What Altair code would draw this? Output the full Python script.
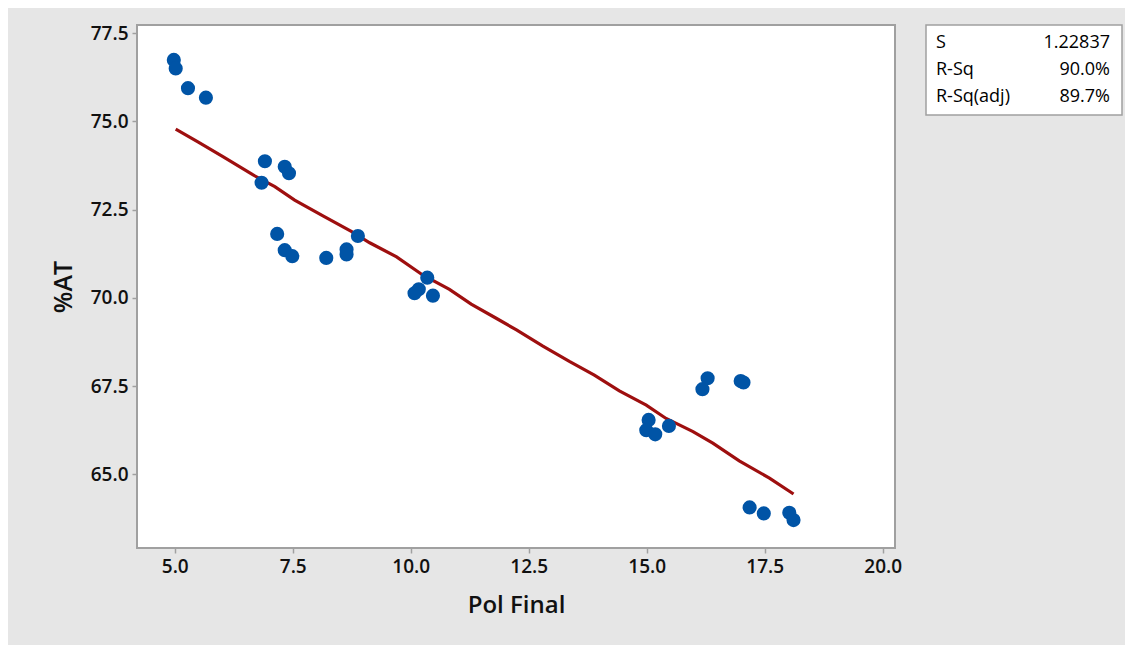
import altair as alt
import pandas as pd

# Observed data (Pol Final vs %AT)
pol_final = [4.98, 5.02, 5.28, 5.66, 6.91, 7.33, 7.42, 6.84, 7.17, 7.33, 7.49,
             8.21, 8.64, 8.64, 8.88, 10.35, 10.17, 10.08, 10.47,
             16.29, 16.18, 16.99, 17.05, 15.04, 14.99, 15.18, 15.47,
             17.18, 17.48, 18.02, 18.11]
pct_at = [76.74, 76.50, 75.94, 75.67, 73.87, 73.71, 73.53, 73.26, 71.81, 71.35, 71.18,
          71.13, 71.37, 71.23, 71.75, 70.57, 70.24, 70.13, 70.06,
          67.72, 67.41, 67.64, 67.60, 66.54, 66.25, 66.13, 66.37,
          64.06, 63.89, 63.91, 63.70]

# Fitted line as drawn
fit_x = [5.02, 5.49, 6.02, 6.66, 7.12, 7.54, 8.14, 8.74, 9.13, 9.70, 10.26, 10.82,
         11.28, 11.81, 12.24, 12.80, 13.37, 13.89, 14.42, 14.99, 15.41, 15.98,
         16.40, 16.96, 17.60, 18.11]
fit_y = [74.78, 74.42, 74.00, 73.48, 73.15, 72.77, 72.32, 71.88, 71.56, 71.16, 70.64, 70.24,
         69.82, 69.42, 69.09, 68.63, 68.19, 67.81, 67.36, 66.96, 66.58, 66.21,
         65.88, 65.38, 64.89, 64.44]

x_ticks = [5.0, 7.5, 10.0, 12.5, 15.0, 17.5, 20.0]
y_ticks = [65.0, 67.5, 70.0, 72.5, 75.0, 77.5]

stat_labels = ["S", "R-Sq", "R-Sq(adj)"]
stat_values = ["1.22837", "90.0%", "89.7%"]

FONT = "Open Sans"

pts = pd.DataFrame({"Pol Final": pol_final, "%AT": pct_at})
fit = pd.DataFrame({"Pol Final": fit_x, "%AT": fit_y, "order": list(range(len(fit_x)))})

xscale = alt.Scale(domain=[4.2, 20.26], nice=False, zero=False)
yscale = alt.Scale(domain=[62.91, 77.73], nice=False, zero=False)

xaxis = alt.Axis(values=x_ticks, format=".1f", title="Pol Final", grid=False,
                 domain=False, tickColor="#A0A0A0", tickSize=5, tickWidth=1.5,
                 labelFont=FONT, labelFontSize=19, labelFontWeight=600, labelColor="#111",
                 labelPadding=4, titleFont=FONT, titleFontSize=24, titleFontWeight=600,
                 titleColor="#111", titlePadding=17)
yaxis = alt.Axis(values=y_ticks, format=".1f", title="%AT", grid=False,
                 domain=False, tickColor="#A0A0A0", tickSize=5, tickWidth=1.5,
                 labelFont=FONT, labelFontSize=19, labelFontWeight=600, labelColor="#111",
                 labelPadding=4, titleFont=FONT, titleFontSize=25, titleFontWeight=600,
                 titleColor="#111", titlePadding=14)

line = alt.Chart(fit).mark_line(color="#9E0F0F", strokeWidth=3.2).encode(
    x=alt.X("Pol Final:Q", scale=xscale, axis=xaxis),
    y=alt.Y("%AT:Q", scale=yscale, axis=yaxis),
    order="order:Q",
)

points = alt.Chart(pts).mark_circle(color="#0054A6", opacity=1, size=200).encode(
    x=alt.X("Pol Final:Q", scale=xscale),
    y=alt.Y("%AT:Q", scale=yscale),
)

box = alt.Chart(alt.Data(values=[{"k": 1}])).mark_rect(
    fill="white", stroke="#A0A0A0", strokeWidth=1.5
).encode(x=alt.value(789), x2=alt.value(985), y=alt.value(0), y2=alt.value(90))

layers = [line, points, box]
row_y = [18, 45, 72]
for lab, val, yy in zip(stat_labels, stat_values, row_y):
    d = alt.Data(values=[{"label": lab, "value": val}])
    layers.append(
        alt.Chart(d).mark_text(align="left", baseline="middle", font=FONT,
                               fontSize=18, fontWeight=500, color="#000").encode(
            x=alt.value(799), y=alt.value(yy), text="label:N")
    )
    layers.append(
        alt.Chart(d).mark_text(align="right", baseline="middle", font=FONT,
                               fontSize=18, fontWeight=500, color="#000").encode(
            x=alt.value(973), y=alt.value(yy), text="value:N")
    )

chart = alt.layer(*layers).properties(
    width=758, height=523,
    autosize=alt.AutoSizeParams(type="none"),
    padding={"left": 129, "top": 17, "right": 230, "bottom": 97},
).configure(background="#E6E6E6").configure_view(
    fill="white", stroke="#A0A0A0", strokeWidth=2
)

chart.save("out.html", embed_options={"renderer": "svg", "actions": False})
